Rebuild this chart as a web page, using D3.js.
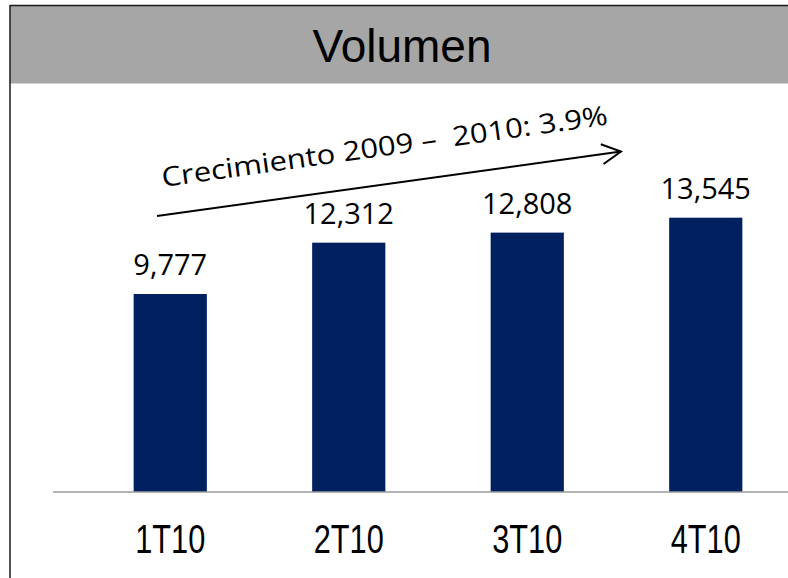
<!DOCTYPE html>
<html>
<head>
<meta charset="utf-8">
<script src="https://cdn.jsdelivr.net/npm/d3@7"></script>
<style>
  html, body { margin: 0; padding: 0; background: #fff; }
  svg { display: block; }
</style>
</head>
<body>
<div id="chart"></div>
<script>
const categories = ['1T10', '2T10', '3T10', '4T10'];
const volumes = [9777, 12312, 12808, 13545];
const title = 'Volumen';
const growthNote = 'Crecimiento 2009 –  2010: 3.9%';

const width = 788;
const height = 578;
const baseY = 492;

const svg = d3.select('#chart').append('svg')
  .attr('width', width)
  .attr('height', height);

// title band
svg.append('rect')
  .attr('x', 10).attr('y', 5.5)
  .attr('width', width - 10).attr('height', 78)
  .attr('fill', '#a6a6a6');

svg.append('line')
  .attr('x1', 10).attr('x2', width)
  .attr('y1', 5.5).attr('y2', 5.5)
  .attr('stroke', '#1a1a1a').attr('stroke-width', 1.5);

svg.append('line')
  .attr('x1', 10).attr('x2', 10)
  .attr('y1', 5).attr('y2', height)
  .attr('stroke', '#1a1a1a').attr('stroke-width', 1.5);

svg.append('text')
  .attr('x', 402).attr('y', 62)
  .attr('text-anchor', 'middle')
  .attr('font-family', 'Liberation Sans, Arial, sans-serif')
  .attr('font-size', 46)
  .attr('fill', '#000')
  .text(title);

// scales
const x = d3.scaleBand()
  .domain(categories)
  .range([81, 795])
  .paddingInner(0.59)
  .paddingOuter(0.295);

const y = d3.scaleLinear()
  .domain([0, 14000])
  .range([baseY, baseY - 14000 * (198 / 9777)]);

// bars
svg.append('g')
  .selectAll('rect')
  .data(volumes)
  .enter().append('rect')
    .attr('x', (d, i) => x(categories[i]))
    .attr('y', (d) => y(d))
    .attr('width', x.bandwidth())
    .attr('height', (d) => y(0) - y(d))
    .attr('fill', '#002060');

// value labels
const fmt = d3.format(',');
svg.append('g')
  .selectAll('text')
  .data(volumes)
  .enter().append('text')
    .attr('x', (d, i) => x(categories[i]) + x.bandwidth() / 2)
    .attr('y', (d) => y(d) - 19)
    .attr('text-anchor', 'middle')
    .attr('font-family', 'Open Sans, DejaVu Sans, sans-serif')
    .attr('font-size', 29)
    .attr('fill', '#000')
    .text((d) => fmt(d));

// category axis
const axis = svg.append('g')
  .attr('transform', `translate(0,${baseY})`)
  .call(d3.axisBottom(x).tickSize(0).tickPadding(0));

axis.select('.domain').remove();
svg.append('line')
  .attr('x1', 53).attr('x2', width)
  .attr('y1', baseY).attr('y2', baseY)
  .attr('stroke', '#9a9a9a').attr('stroke-width', 1.5);

axis.selectAll('text')
  .attr('dy', null)
  .attr('y', 61)
  .attr('font-family', 'Liberation Sans, Arial, sans-serif')
  .attr('font-size', 40)
  .attr('textLength', 70)
  .attr('lengthAdjust', 'spacingAndGlyphs')
  .attr('fill', '#000');

// growth arrow
svg.append('defs').append('marker')
  .attr('id', 'chev')
  .attr('viewBox', '-22 -12 24 24')
  .attr('refX', 0).attr('refY', 0)
  .attr('markerWidth', 24).attr('markerHeight', 24)
  .attr('markerUnits', 'userSpaceOnUse')
  .attr('orient', 'auto')
  .append('path')
    .attr('d', 'M-19,-10 L0,0 L-19,10')
    .attr('fill', 'none')
    .attr('stroke', '#000')
    .attr('stroke-width', 2);

svg.append('line')
  .attr('x1', 157).attr('y1', 216)
  .attr('x2', 621).attr('y2', 151.5)
  .attr('stroke', '#000').attr('stroke-width', 2)
  .attr('marker-end', 'url(#chev)');

svg.append('text')
  .attr('transform', 'translate(163,187) rotate(-8)')
  .attr('font-family', 'Open Sans, DejaVu Sans, sans-serif')
  .attr('font-size', 27)
  .attr('textLength', 450)
  .attr('lengthAdjust', 'spacingAndGlyphs')
  .style('white-space', 'pre')
  .attr('fill', '#000')
  .text(growthNote);
</script>
</body>
</html>
